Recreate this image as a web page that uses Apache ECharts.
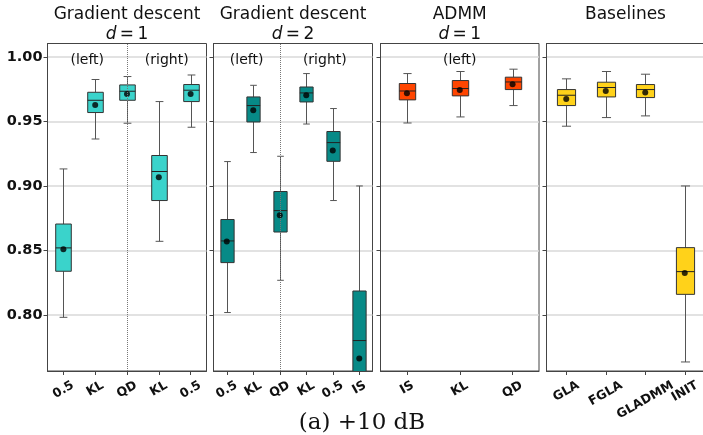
<!DOCTYPE html>
<html style="height: 100%">
<head>
    <meta charset="utf-8">
</head>
<body style="height: 100%; margin: 0; background: #fff">
<div id="main" style="width: 703px; height: 435px"></div>
<script src="https://cdn.jsdelivr.net/npm/echarts@6/dist/echarts.min.js"></script>
<script type="text/javascript">
    // 每个箱子: [下须, Q1, 中位数, Q3, 上须]
    var gd1Labels = ['0.5', 'KL', 'QD', 'KL', '0.5'];
    var gd1Boxes = [
        [0.7982, 0.8339, 0.8520, 0.8705, 0.9132],
        [0.9364, 0.9569, 0.9664, 0.9726, 0.9825],
        [0.9486, 0.9664, 0.9734, 0.9783, 0.9848],
        [0.8571, 0.8887, 0.9112, 0.9236, 0.9654],
        [0.9455, 0.9654, 0.9742, 0.9786, 0.9860]
    ];
    var gd1Means = [0.8510, 0.9628, 0.9713, 0.9067, 0.9713];

    var gd2Labels = ['0.5', 'KL', 'QD', 'KL', '0.5', 'IS'];
    var gd2Boxes = [
        [0.8019, 0.8406, 0.8574, 0.8740, 0.9189],
        [0.9259, 0.9496, 0.9623, 0.9690, 0.9780],
        [0.8269, 0.8643, 0.8809, 0.8957, 0.9230],
        [0.9480, 0.9651, 0.9721, 0.9767, 0.9871],
        [0.8887, 0.9191, 0.9336, 0.9422, 0.9600],
        [0.6900, 0.7350, 0.7802, 0.8186, 0.9000]
    ];
    var gd2Means = [0.8569, 0.9587, 0.8773, 0.9703, 0.9274, 0.7662];

    var admmLabels = ['IS', 'KL', 'QD'];
    var admmBoxes = [
        [0.9488, 0.9667, 0.9736, 0.9794, 0.9871],
        [0.9535, 0.9698, 0.9755, 0.9817, 0.9887],
        [0.9623, 0.9747, 0.9806, 0.9843, 0.9905]
    ];
    var admmMeans = [0.9719, 0.9744, 0.9788];

    var baseLabels = ['GLA', 'FGLA', 'GLADMM', 'INIT'];
    var baseBoxes = [
        [0.9463, 0.9623, 0.9703, 0.9747, 0.9830],
        [0.9530, 0.9690, 0.9763, 0.9804, 0.9887],
        [0.9543, 0.9685, 0.9747, 0.9786, 0.9866],
        [0.7636, 0.8160, 0.8336, 0.8522, 0.9000]
    ];
    var baseMeans = [0.9674, 0.9736, 0.9724, 0.8326];

    var yTicks = [0.80, 0.85, 0.90, 0.95, 1.00];

    // 面板布局
    var FONT = '"DejaVu Sans"';
    var XFONT = 12.5;
    var gridTop = 43.5, gridHeight = 327.5;
    var panels = [
        {left: 47.5, width: 159, labels: gd1Labels, boxes: gd1Boxes, means: gd1Means, color: '#3ad3cb', frac: 0.49,
            title: 'Gradient descent', sub: true, split: 2, notes: [['(left)', 0.75], ['(right)', 3.25]]},
        {left: 213.5, width: 159, labels: gd2Labels, boxes: gd2Boxes, means: gd2Means, color: '#078a87', frac: 0.5,
            title: 'Gradient descent', sub: true, split: 2, notes: [['(left)', 0.75], ['(right)', 3.7]], d: 2},
        {left: 380.5, width: 158.5, labels: admmLabels, boxes: admmBoxes, means: admmMeans, color: '#ff4500', frac: 0.31,
            title: 'ADMM', sub: true, notes: [['(left)', 1]]},
        {left: 546.5, width: 158, labels: baseLabels, boxes: baseBoxes, means: baseMeans, color: '#ffd21a', frac: 0.46,
            title: 'Baselines', sub: false, notes: []}
    ];

    // 旋转 30° 的标签: 用空白 rich 片段把文字挪到外框顶端对齐 (类似 matplotlib 的 va=top)
    var measureCtx = document.createElement('canvas').getContext('2d');
    measureCtx.font = 'bold ' + XFONT + 'px ' + FONT;
    function tiltedLabel(labels) {
        var rich = {t: {fontFamily: FONT, fontWeight: 'bold', fontSize: XFONT, lineHeight: XFONT * 1.2, color: '#111'}};
        labels.forEach(function (s, i) {
            var w = measureCtx.measureText(s).width;
            var d = (0.5 * w + 0.866 * XFONT) / 2;
            rich['s' + i] = {fontSize: 1, lineHeight: 1.732 * d, height: 1.732 * d};
            rich['p' + i] = {fontSize: 1, width: d};
        });
        return {
            rich: rich,
            formatter: function (v, i) { return '{s' + i + '| }\n{t|' + v + '}{p' + i + '| }'; }
        };
    }

    function boxRenderer(frac, fill) {
        return function (params, api) {
            var x = api.value(0);
            var p = [1, 2, 3, 4, 5].map(function (d) {
                return api.coord([x, api.value(d)]);
            });
            var cx = Math.round(p[0][0]) + 0.5;
            var bw = api.size([1, 0])[0] * frac;
            var wl = {stroke: '#555', lineWidth: 1};
            return {
                type: 'group',
                children: [
                    {type: 'line', shape: {x1: cx, y1: p[0][1], x2: cx, y2: p[1][1]}, style: wl},
                    {type: 'line', shape: {x1: cx, y1: p[3][1], x2: cx, y2: p[4][1]}, style: wl},
                    {type: 'line', shape: {x1: cx - bw / 4, y1: p[0][1], x2: cx + bw / 4, y2: p[0][1]}, style: wl},
                    {type: 'line', shape: {x1: cx - bw / 4, y1: p[4][1], x2: cx + bw / 4, y2: p[4][1]}, style: wl},
                    {type: 'rect', shape: {x: cx - bw / 2, y: p[3][1], width: bw, height: p[1][1] - p[3][1]},
                        style: {fill: fill, stroke: '#333', lineWidth: 1}},
                    {type: 'line', shape: {x1: cx - bw / 2, y1: p[2][1], x2: cx + bw / 2, y2: p[2][1]},
                        style: {stroke: '#222', lineWidth: 1}}
                ]
            };
        };
    }

    var grids = [], xAxes = [], yAxes = [], series = [], graphics = [];
    panels.forEach(function (pn, k) {
        grids.push({left: pn.left, top: gridTop, width: pn.width, height: gridHeight,
            outerBoundsMode: 'none', containLabel: false,
            show: true, borderColor: '#444', borderWidth: 1, backgroundColor: '#fff'});
        var tl = tiltedLabel(pn.labels);
        xAxes.push({
            type: 'category', gridIndex: k, data: pn.labels, boundaryGap: true,
            axisLine: {show: true, lineStyle: {color: '#444'}},
            axisTick: {show: true, alignWithLabel: true, length: 4, lineStyle: {color: '#444'}},
            axisLabel: {interval: 0, rotate: 30, align: 'center', verticalAlign: 'middle', margin: 8,
                fontFamily: FONT, fontWeight: 'bold', fontSize: XFONT, color: '#111',
                formatter: tl.formatter, rich: tl.rich},
            splitLine: {show: false}
        });
        yAxes.push({
            type: 'value', gridIndex: k, min: 0.7566, max: 1.0104,
            axisLine: {show: true, lineStyle: {color: '#444'}},
            axisTick: {show: true, length: 4, customValues: yTicks, lineStyle: {color: '#444'}},
            axisLabel: {show: k === 0, customValues: yTicks, margin: 5, fontFamily: FONT, fontWeight: 'bold',
                fontSize: 14.5, color: '#111', formatter: function (v) { return v.toFixed(2); }},
            splitLine: {show: true, customValues: yTicks, lineStyle: {color: '#d9d9d9', width: 1.5}}
        });
        series.push({
            type: 'custom', xAxisIndex: k, yAxisIndex: k, clip: true, z: 2,
            renderItem: boxRenderer(pn.frac, pn.color),
            encode: {x: 0, y: [1, 2, 3, 4, 5]},
            data: pn.boxes.map(function (b, i) { return [i].concat(b); })
        });
        var mean = {
            type: 'scatter', xAxisIndex: k, yAxisIndex: k, z: 3, symbol: 'circle', symbolSize: 6,
            itemStyle: {color: '#000'},
            data: pn.means.map(function (m, i) { return [i, m]; })
        };
        if (pn.split != null) {
            mean.markLine = {silent: true, symbol: 'none', label: {show: false},
                lineStyle: {color: '#777', type: 'dotted', width: 1},
                data: [{xAxis: pn.split}]};
        }
        series.push(mean);

        var cx = pn.left + pn.width / 2;
        graphics.push({type: 'text', x: cx, y: 15, style: {text: pn.title, fontFamily: 'DejaVu Sans', fontSize: 17,
            fill: '#111', align: 'center', verticalAlign: 'middle'}});
        if (pn.sub) {
            graphics.push({type: 'text', x: cx, y: 34.5, style: {
                text: '{i|d}\u2009=\u2009' + (pn.d || 1), fontFamily: 'DejaVu Sans', fontSize: 17,
                fill: '#111', align: 'center', verticalAlign: 'middle',
                rich: {i: {fontStyle: 'italic', fontFamily: 'DejaVu Sans', fontSize: 17, fill: '#111'}}}});
        }
        var band = pn.width / pn.labels.length;
        pn.notes.forEach(function (nt) {
            graphics.push({type: 'text', x: pn.left + (nt[1] + 0.5) * band, y: 60, z: 10, style: {
                text: nt[0], fontFamily: 'DejaVu Sans', fontSize: 14, fill: '#111',
                align: 'center', verticalAlign: 'middle'}});
        });
    });
    graphics.push({type: 'text', x: 362, y: 423, style: {text: '(a) +10 dB', fontFamily: '"DejaVu Serif"',
        fontSize: 23, fill: '#111', align: 'center', verticalAlign: 'middle'}});

    var myChart = echarts.init(document.getElementById('main'));
    myChart.setOption({
        animation: false,
        backgroundColor: '#fff',
        grid: grids,
        xAxis: xAxes,
        yAxis: yAxes,
        series: series,
        graphic: graphics
    });
</script>
</body>
</html>
